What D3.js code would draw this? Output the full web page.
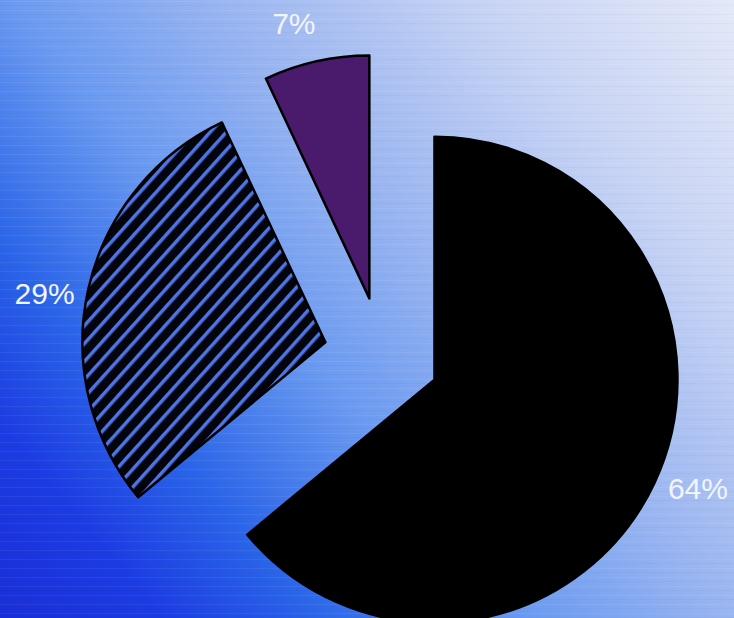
<!DOCTYPE html>
<html>
<head>
<meta charset="utf-8">
<script src="https://cdn.jsdelivr.net/npm/d3@7/dist/d3.min.js"></script>
<style>
  html, body { margin: 0; padding: 0; background: #6a9af0; }
  svg { display: block; }
</style>
</head>
<body>
<script>
// Share of each part, in pie order (clockwise from 12 o'clock)
const categories = ["A", "B", "C"];
const values = [64, 29, 7];
const labels = ["64%", "29%", "7%"];
const fills = ["#000000", "url(#hatch)", "#4a1a6c"];

const W = 734, H = 618;
const cx = 382, cy = 355;       // pie centre
const radius = 243;
const explode = 58;             // how far each slice is pulled out
const labelRadius = 343;

const svg = d3.select("body").append("svg")
  .attr("width", W).attr("height", H);

const defs = svg.append("defs");

// background: dark blue bottom-left fading to pale top-right
const bg = defs.append("linearGradient")
  .attr("id", "bg")
  .attr("gradientUnits", "userSpaceOnUse")
  .attr("x1", 0).attr("y1", H).attr("x2", W).attr("y2", 0);
[[0, "#1a2ed6"], [0.13, "#1c3ce2"], [0.25, "#2a64e8"], [0.42, "#6a9af0"],
 [0.58, "#98b4f0"], [0.8, "#c8d4f4"], [1, "#e4e9f8"]]
  .forEach(([o, c]) => bg.append("stop").attr("offset", o).attr("stop-color", c));

// faint horizontal streaks across the backdrop
const streak = defs.append("pattern")
  .attr("id", "streak")
  .attr("patternUnits", "userSpaceOnUse")
  .attr("width", 40).attr("height", 9);
streak.append("rect").attr("x", 0).attr("y", 1).attr("width", 40).attr("height", 1)
  .attr("fill", "#ffffff").attr("opacity", 0.06);
streak.append("rect").attr("x", 0).attr("y", 5).attr("width", 40).attr("height", 1)
  .attr("fill", "#1a2a80").attr("opacity", 0.03);

// diagonal stripes for the hatched slice
const hatch = defs.append("pattern")
  .attr("id", "hatch")
  .attr("patternUnits", "userSpaceOnUse")
  .attr("width", 12).attr("height", 12)
  .attr("patternTransform", "rotate(42)");
hatch.append("rect").attr("width", 12).attr("height", 12).attr("fill", "#03040c");
hatch.append("rect").attr("x", 0).attr("y", 0).attr("width", 3.5).attr("height", 12)
  .attr("fill", "#4e74e6");

svg.append("rect").attr("width", W).attr("height", H).attr("fill", "url(#bg)");
svg.append("rect").attr("width", W).attr("height", H).attr("fill", "url(#streak)");

const pie = d3.pie().sort(null).value(d => d);
const arcs = pie(values);
const arc = d3.arc().innerRadius(0).outerRadius(radius);

const g = svg.append("g").attr("transform", `translate(${cx},${cy})`);

g.selectAll("path.slice")
  .data(arcs)
  .join("path")
  .attr("class", "slice")
  .attr("d", arc)
  .attr("fill", (d, i) => fills[i])
  .attr("stroke", "#000")
  .attr("stroke-width", 2.5)
  .attr("stroke-linejoin", "round")
  .attr("transform", d => {
    const a = (d.startAngle + d.endAngle) / 2;
    return `translate(${explode * Math.sin(a)},${-explode * Math.cos(a)})`;
  });

g.selectAll("text.lbl")
  .data(arcs)
  .join("text")
  .attr("class", "lbl")
  .attr("x", d => labelRadius * Math.sin((d.startAngle + d.endAngle) / 2 - 0.04))
  .attr("y", d => -labelRadius * Math.cos((d.startAngle + d.endAngle) / 2 - 0.04))
  .attr("dy", "0.36em")
  .attr("text-anchor", "middle")
  .attr("font-family", "Liberation Sans, Arial, sans-serif")
  .attr("font-size", 30)
  .attr("fill", "#f2f5ff")
  .text((d, i) => labels[i]);
</script>
</body>
</html>
